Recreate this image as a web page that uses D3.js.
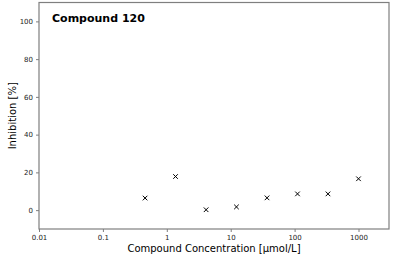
<!DOCTYPE html>
<html>
<head>
<meta charset="utf-8">
<script src="https://cdn.jsdelivr.net/npm/d3@7"></script>
<style>
	body { margin: 0; background: #fff; }
	svg { display: block; }
</style>
</head>
<body>
<svg id="chart" width="393" height="262"></svg>
<script>

var title = "Compound 120";
var concentrations = [0.457, 1.37, 4.12, 12.3, 37.0, 111, 333, 1000];
var inhibition = [6.4, 17.8, 0.2, 1.7, 6.5, 8.6, 8.6, 16.6];
var xTicks = [0.01, 0.1, 1, 10, 100, 1000];
var yTicks = [0, 20, 40, 60, 80, 100];

function renderChart(element) {

	var svg = d3.select(element);

	// plot area edges (note: "top" is taken by window.top, so use own names)
	var plotLeft = 39, plotRight = 389, plotTop = 2.5, plotBottom = 229;
	var axisColor = "#7f7f7f";

	var x = d3.scaleLog()
		.domain([0.01, 3000])
		.range([plotLeft, plotRight]);

	var y = d3.scaleLinear()
		.domain([-10, 110])
		.range([plotBottom, plotTop]);

	// frame
	svg.append("rect")
		.attr("x", plotLeft)
		.attr("y", plotTop)
		.attr("width", plotRight - plotLeft)
		.attr("height", plotBottom - plotTop)
		.attr("fill", "none")
		.attr("stroke", axisColor)
		.attr("stroke-width", 1.2);

	var xAxis = svg.append("g")
		.attr("transform", "translate(0," + plotBottom + ")")
		.call(d3.axisBottom(x).tickValues(xTicks).tickFormat(d3.format("~g")).tickSize(3).tickPadding(3));

	var yAxis = svg.append("g")
		.attr("transform", "translate(" + plotLeft + ",0)")
		.call(d3.axisLeft(y).tickValues(yTicks).tickSize(3).tickPadding(3));

	[xAxis, yAxis].forEach(function(g) {
		g.select(".domain").remove();
		g.selectAll("line").attr("stroke", axisColor);
		g.selectAll("text")
			.attr("fill", "#222")
			.attr("font-family", "DejaVu Sans")
			.attr("font-size", "7px");
	});

	// "x" markers
	var s = 2.3;
	svg.append("g")
		.selectAll("path")
		.data(concentrations)
		.enter()
		.append("path")
		.attr("d", function(d, i) {
			var cx = x(d), cy = y(inhibition[i]);
			return "M" + (cx - s) + "," + (cy - s) + "L" + (cx + s) + "," + (cy + s) +
				"M" + (cx - s) + "," + (cy + s) + "L" + (cx + s) + "," + (cy - s);
		})
		.attr("stroke", "#000")
		.attr("stroke-width", 1);

	svg.append("text")
		.attr("x", 52)
		.attr("y", 22)
		.attr("font-family", "DejaVu Sans")
		.attr("font-weight", "bold")
		.attr("font-size", "11px")
		.text(title);

	svg.append("text")
		.attr("x", (plotLeft + plotRight) / 2)
		.attr("y", 252)
		.attr("text-anchor", "middle")
		.attr("font-family", "DejaVu Sans")
		.attr("font-size", "10px")
		.text("Compound Concentration [µmol/L]");

	svg.append("text")
		.attr("transform", "translate(16," + ((plotTop + plotBottom) / 2) + ") rotate(-90)")
		.attr("text-anchor", "middle")
		.attr("font-family", "DejaVu Sans")
		.attr("font-size", "10px")
		.text("Inhibition [%]");
}

renderChart("#chart");

</script>
</body>
</html>
